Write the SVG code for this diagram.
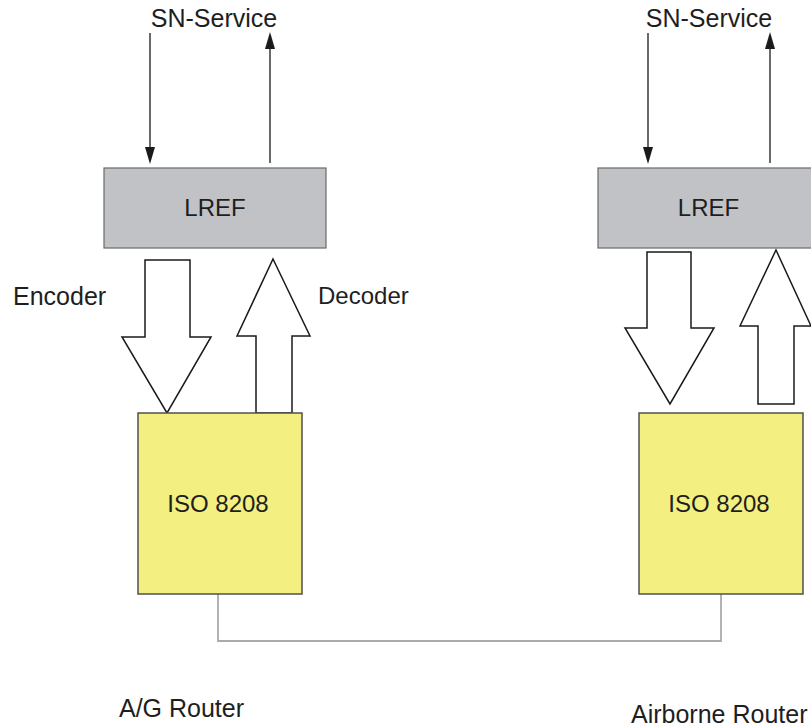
<svg xmlns="http://www.w3.org/2000/svg" width="811" height="727" viewBox="0 0 811 727">
<style>
text{font-family:"Liberation Sans",Arial,sans-serif;font-size:24px;fill:#1e1e1e}
.lref{fill:#c1c2c6;stroke:#6a6a6a;stroke-width:1.2}
.iso{fill:#f3ef80;stroke:#505050;stroke-width:1.5}
.big{fill:#fff;stroke:#1a1a1a;stroke-width:1.5;stroke-linejoin:miter}
.sn{stroke:#1a1a1a;stroke-width:1.3;fill:none}
.link{stroke:#aaaaaa;stroke-width:1.8;fill:none}
</style>
<defs>
<marker id="ah" markerUnits="userSpaceOnUse" markerWidth="12" markerHeight="18" viewBox="0 0 12 18" refX="6" refY="17" orient="auto-start-reverse">
<path d="M0,0 L12,0 L6,17 Z" fill="#1a1a1a" transform="rotate(0)"/>
</marker>
</defs>
<g id="connectors">
<line class="sn" x1="150" y1="33" x2="150" y2="147" />
<polygon points="145,147 155,147 150,164" fill="#1a1a1a"/>
<line class="sn" x1="270" y1="163" x2="270" y2="49" />
<polygon points="265,49 275,49 270,32" fill="#1a1a1a"/>
<line class="sn" x1="648" y1="33" x2="648" y2="147" />
<polygon points="643,147 653,147 648,164" fill="#1a1a1a"/>
<line class="sn" x1="770" y1="163" x2="770" y2="49" />
<polygon points="765,49 775,49 770,32" fill="#1a1a1a"/>
<polyline class="link" points="218,594 218,641 721,641 721,594"/>
</g>
<g id="lref-left">
<rect class="lref" x="104" y="168" width="222" height="80"/>
<text x="215" y="216" text-anchor="middle">LREF</text>
</g>
<g id="lref-right">
<rect class="lref" x="598" y="168" width="225" height="80"/>
<text x="708.5" y="216" text-anchor="middle">LREF</text>
</g>
<g id="encoder-left">
<polygon class="big" points="145,260 190,260 190,337 211,337 167,413 122,337 145,337"/>
</g>
<g id="decoder-left">
<polygon class="big" points="273,259 310,336 292,336 292,413 256,413 256,336 237,336"/>
</g>
<g id="encoder-right">
<polygon class="big" points="647,252 691,252 691,328 714,328 670,404 625,328 647,328"/>
</g>
<g id="decoder-right">
<polygon class="big" points="776,250 811,326 794,326 794,404 758,404 758,326 740,326"/>
</g>
<g id="iso-left">
<rect class="iso" x="138" y="413" width="164" height="181"/>
<text x="218" y="512" text-anchor="middle">ISO 8208</text>
</g>
<g id="iso-right">
<rect class="iso" x="639" y="413" width="164" height="181"/>
<text x="719" y="512" text-anchor="middle">ISO 8208</text>
</g>
<g id="labels">
<text x="214" y="27" text-anchor="middle" font-size="25" style="font-size:25px">SN-Service</text>
<text x="709" y="27" text-anchor="middle" style="font-size:25px">SN-Service</text>
<text x="13" y="305" style="font-size:25px">Encoder</text>
<text x="318" y="304">Decoder</text>
<text x="119" y="717" style="font-size:25px">A/G Router</text>
<text x="631" y="723" style="font-size:25px">Airborne Router</text>
</g>
</svg>
